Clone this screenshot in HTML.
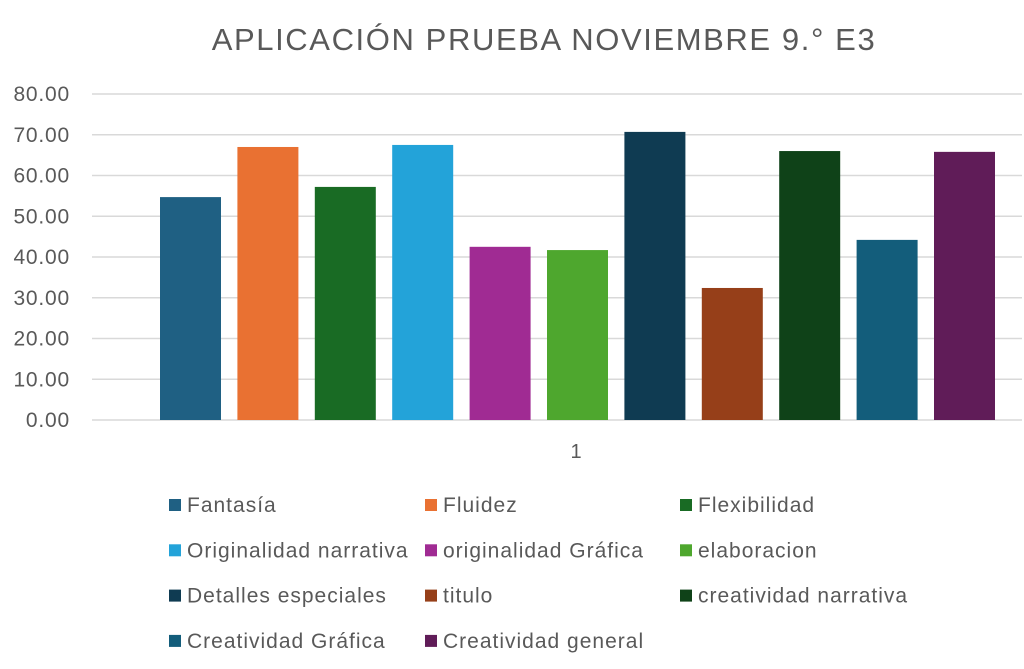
<!DOCTYPE html>
<html><head><meta charset="utf-8"><style>
body{margin:0;background:#fff;}
svg{display:block;font-family:"Liberation Sans",sans-serif;}
</style></head><body>
<svg id="chart" width="1024" height="669">
<text x="544" y="50" text-anchor="middle" font-size="31" letter-spacing="1.6" fill="#595959">APLICACIÓN PRUEBA NOVIEMBRE 9.° E3</text>
<g id="grid"></g><g id="bars"></g><g id="legend"></g>
<text x="576" y="458" text-anchor="middle" font-size="20" fill="#595959">1</text>
</svg>
<script>
const categories=["Fantasía","Fluidez","Flexibilidad","Originalidad narrativa","originalidad Gráfica","elaboracion","Detalles especiales","titulo","creatividad narrativa","Creatividad Gráfica","Creatividad general"];
const values=[54.7,67.0,57.2,67.5,42.5,41.7,70.7,32.4,66.0,44.2,65.8];
const colors=["#1f6083","#e97132","#196b24","#23a3d9","#a02b93","#4ea72e","#0f3b52","#963f19","#0f4218","#135d7b","#601c58"];
const ticks=[0,10,20,30,40,50,60,70,80];
const NS="http://www.w3.org/2000/svg";
const y=v=>420-v*4.075;
const x=i=>160+i*77.4;
function mk(t,a,p){const e=document.createElementNS(NS,t);for(const k in a)e.setAttribute(k,a[k]);p.appendChild(e);return e;}
const g=document.getElementById('grid');
ticks.forEach(t=>{
 const l=mk('line',{x1:92,x2:1022,y1:y(t),y2:y(t),stroke:'#d9d9d9','stroke-width':1.5},g);
 
 
 const tx=mk('text',{x:70,y:y(t)+7,'text-anchor':'end','font-size':21,'letter-spacing':0.8,fill:'#595959'},g);
 tx.textContent=t.toFixed(2);
 
 
});
const b=document.getElementById('bars');
values.forEach((v,i)=>{
 const r=mk('rect',{x:x(i),y:y(v),width:61,height:420-y(v),fill:colors[i]},b);
 
 
});
const lg=document.getElementById('legend');
const colX=[169,425,680];
categories.forEach((c,i)=>{
 const row=Math.floor(i/3),col=i%3,yy=505+row*45.3;
 const s=mk('rect',{x:colX[col],y:yy-6,width:12,height:12,fill:colors[i]},lg);
 
 
 const t=mk('text',{x:colX[col]+18,y:yy+7,'font-size':21,'letter-spacing':1,fill:'#595959'},lg);
 t.textContent=c;
 
 
});
</script>
</body></html>
